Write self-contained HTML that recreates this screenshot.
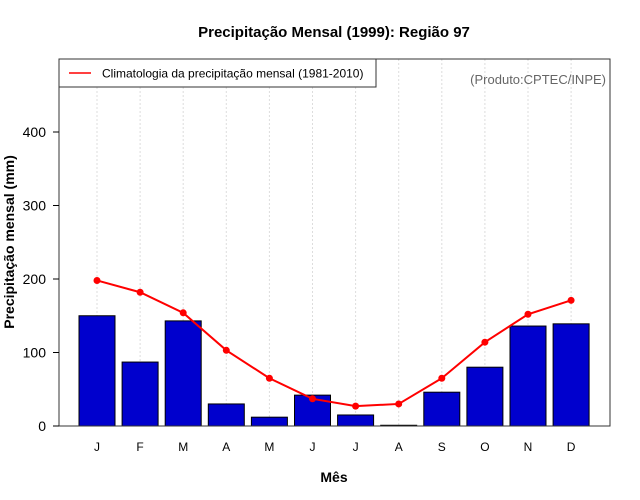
<!DOCTYPE html>
<html><head><meta charset="utf-8"><style>
body{margin:0;background:#fff;}
svg{display:block;font-family:"Liberation Sans",sans-serif;}
</style></head><body>
<svg id="chart" width="640" height="500">
<text x="334" y="37" text-anchor="middle" font-size="15" font-weight="bold">Precipitação Mensal (1999): Região 97</text>
<g id="grid"></g>
<g id="bars"></g>
<g id="line"></g>
<rect x="59" y="59" width="551" height="367" fill="none" stroke="#333" stroke-width="1"/>
<g id="yaxis"></g>
<g id="xaxis"></g>
<text x="334" y="482" text-anchor="middle" font-size="14" font-weight="bold">Mês</text>
<text transform="translate(14,242) rotate(-90)" text-anchor="middle" font-size="14" font-weight="bold">Precipitação mensal (mm)</text>
<g>
<rect x="59" y="59" width="317" height="28" fill="#fff" stroke="#333"/>
<line x1="69" y1="73" x2="91" y2="73" stroke="red" stroke-width="1.5"/>
<text x="102" y="77.5" font-size="12">Climatologia da precipitação mensal (1981-2010)</text>
</g>
<text x="606" y="84" text-anchor="end" font-size="13" fill="#666">(Produto:CPTEC/INPE)</text>
</svg>
<script>
const categories=["J","F","M","A","M","J","J","A","S","O","N","D"];
const precip=[150,87,143,30,12,42,15,1,46,80,136,139];
const climatology=[198,182,154,103,65,37,27,30,65,114,152,171];
const yTicks=[0,100,200,300,400];
const NS="http://www.w3.org/2000/svg";
function xs(i){return 97+i*43.1;}
function ys(v){return 426-v*0.735;}
function mk(tag,attrs,parent,txt){const e=document.createElementNS(NS,tag);for(const k in attrs)e.setAttribute(k,attrs[k]);if(txt!==undefined)e.textContent=txt;document.getElementById(parent).appendChild(e);return e;}
categories.forEach((c,i)=>{
 const g=mk('line',{x1:xs(i),x2:xs(i),y1:59,y2:426,stroke:'#ddd','stroke-dasharray':'2,2'},'grid');
 
 
 const b=mk('rect',{x:xs(i)-18,y:ys(precip[i]),width:36,height:426-ys(precip[i]),fill:'#0000cd',stroke:'#000','stroke-width':1},'bars');
 
 
 const t=mk('text',{x:xs(i),y:451,'text-anchor':'middle','font-size':12},'xaxis',c);
 
 
});
const p=mk('polyline',{points:climatology.map((v,i)=>xs(i)+','+ys(v)).join(' '),fill:'none',stroke:'red','stroke-width':2},'line');


climatology.forEach((v,i)=>{
 const c=mk('circle',{cx:xs(i),cy:ys(v),r:3.5,fill:'red'},'line');
 
 
});
yTicks.forEach(v=>{
 const l=mk('line',{x1:53,x2:59,y1:ys(v),y2:ys(v),stroke:'#000'},'yaxis');
 
 
 const t=mk('text',{x:46,y:ys(v)+5,'text-anchor':'end','font-size':14},'yaxis',v);
 
 
});
</script>
</body></html>
